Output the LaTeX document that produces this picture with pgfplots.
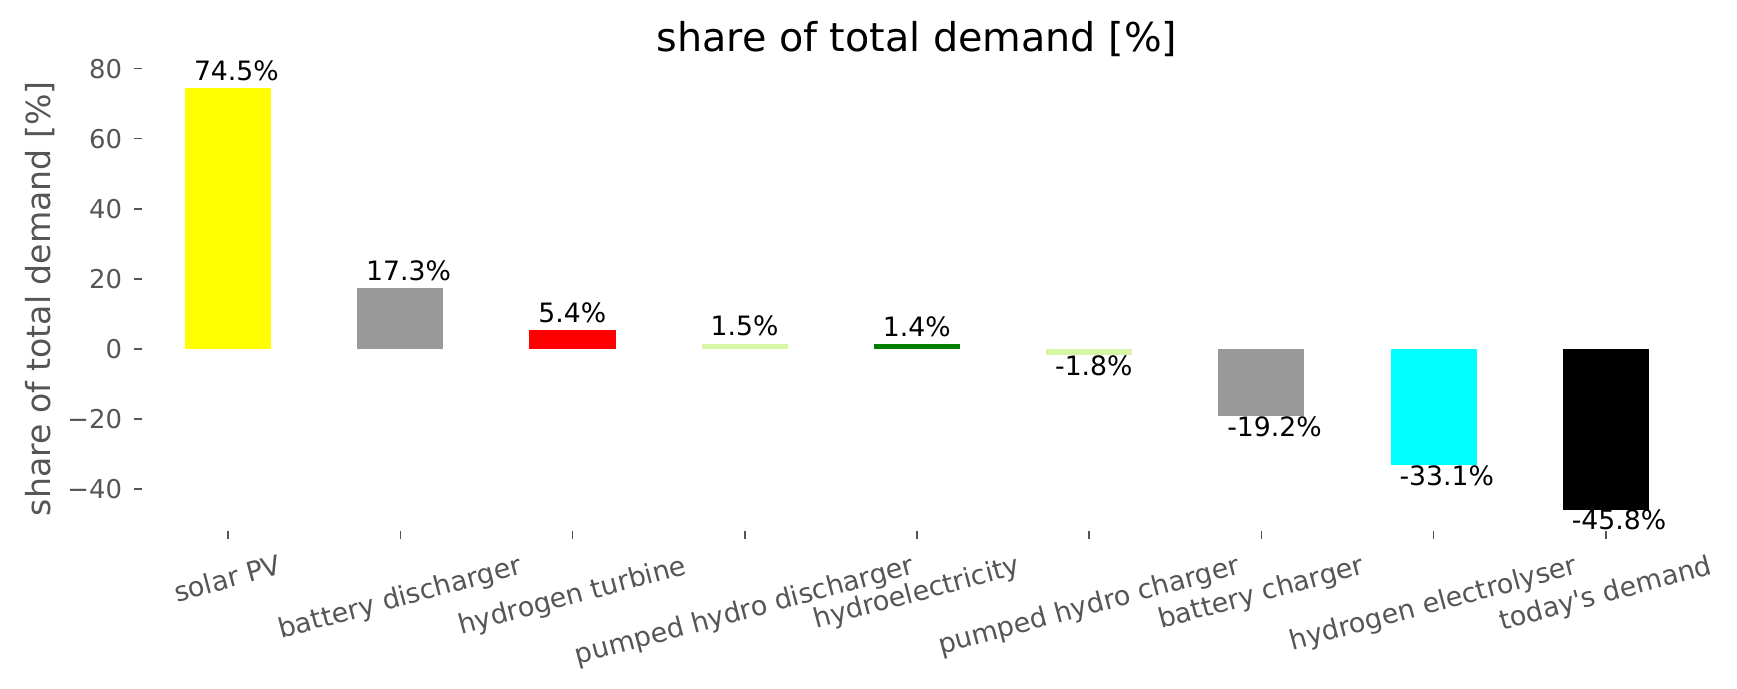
\documentclass[border=0pt]{standalone}
\usepackage{pgfplots}
\pgfplotsset{compat=1.18}
\usepackage{graphicx}
\usepackage{fontspec}
\setmainfont{DejaVu Sans}[Ligatures=TeXOff]
\definecolor{tickgray}{HTML}{555555}
\definecolor{bgray}{HTML}{999999}
\definecolor{lgreen}{RGB}{216,247,166}
\definecolor{dgreen}{HTML}{008000}
\definecolor{cyanc}{HTML}{00FFFF}
\definecolor{yell}{HTML}{FFFF00}
\definecolor{redc}{HTML}{FF0000}
\newcommand\xl[1]{\rotatebox{15}{\fontsize{13}{15}\selectfont#1\vphantom{lp}}}
\tikzset{
  poslab/.style={anchor=base west, inner sep=0pt, xshift=-16.56pt, yshift=3.74pt, font=\fontsize{12.8}{15}\selectfont, text=black},
  neglab/.style={anchor=base west, inner sep=0pt, xshift=-16.56pt, yshift=-9.7pt, font=\fontsize{12.8}{15}\selectfont, text=black},
}
\begin{document}
\begin{tikzpicture}
\begin{axis}[
  name=ax,
  scale only axis, width=744pt, height=222.62pt,
  xmin=-0.5, xmax=8.5, ymin=-51.815, ymax=80.515,
  clip=false,
  axis line style={draw=none},
  tick pos=left,
  tick align=inside, major tick length=-3.84pt,
  tick style={tickgray, line width=0.7pt},
  xtick={0,1,2,3,4,5,6,7,8},
  xticklabels={\xl{solar PV},\xl{battery discharger},\xl{hydrogen turbine},\xl{pumped hydro discharger},\xl{hydroelectricity},\xl{pumped hydro charger},\xl{battery charger},\xl{hydrogen electrolyser},\xl{today's demand}},
  ytick={-40,-20,0,20,40,60,80},
  yticklabels={−40,−20,0,20,40,60,80},
  tick label style={font=\fontsize{12.43}{14}\selectfont, text=tickgray},
  xticklabel style={anchor=north, inner sep=0pt, yshift=-11pt},
  yticklabel style={anchor=east, inner sep=0pt, xshift=-9.36pt},
  ylabel={share of total demand [\%]},
  ylabel style={at={(axis description cs:-0.0589,0.5)}, anchor=base, inner sep=0pt, font=\fontsize{15.9}{18}\selectfont, text=tickgray},
  title={share of total demand [\%]},
  title style={at={(axis description cs:0.5,1.0326)}, anchor=base, yshift=-6pt, inner sep=0pt, font=\fontsize{19.04}{22}\selectfont},
]
\addplot[ybar, bar shift=0pt, bar width=0.5, fill=yell, draw=none, nodes near coords={74.5\%}, nodes near coords style={poslab}] coordinates {(0,74.5)};
\addplot[ybar, bar shift=0pt, bar width=0.5, fill=bgray, draw=none, nodes near coords={17.3\%}, nodes near coords style={poslab}] coordinates {(1,17.3)};
\addplot[ybar, bar shift=0pt, bar width=0.5, fill=redc, draw=none, nodes near coords={5.4\%}, nodes near coords style={poslab}] coordinates {(2,5.4)};
\addplot[ybar, bar shift=0pt, bar width=0.5, fill=lgreen, draw=none, nodes near coords={1.5\%}, nodes near coords style={poslab}] coordinates {(3,1.5)};
\addplot[ybar, bar shift=0pt, bar width=0.5, fill=dgreen, draw=none, nodes near coords={1.4\%}, nodes near coords style={poslab}] coordinates {(4,1.4)};
\addplot[ybar, bar shift=0pt, bar width=0.5, fill=lgreen, draw=none, nodes near coords={-1.8\%}, nodes near coords style={neglab}] coordinates {(5,-1.8)};
\addplot[ybar, bar shift=0pt, bar width=0.5, fill=bgray, draw=none, nodes near coords={-19.2\%}, nodes near coords style={neglab}] coordinates {(6,-19.2)};
\addplot[ybar, bar shift=0pt, bar width=0.5, fill=cyanc, draw=none, nodes near coords={-33.1\%}, nodes near coords style={neglab}] coordinates {(7,-33.1)};
\addplot[ybar, bar shift=0pt, bar width=0.5, fill=black, draw=none, nodes near coords={-45.8\%}, nodes near coords style={neglab}] coordinates {(8,-45.8)};
\end{axis}
\pgfresetboundingbox
\path[use as bounding box] ([shift={(-68.16pt,-76.03pt)}]ax.south west) rectangle ([shift={(765.6pt,254.69pt)}]ax.south west);
\end{tikzpicture}
\end{document}
